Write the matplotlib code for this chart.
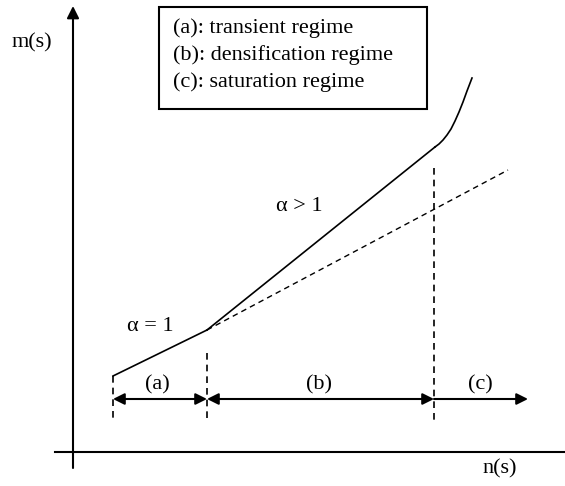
import matplotlib
matplotlib.use("Agg")
import matplotlib.pyplot as plt

# ---- data (in drawing units, y grows downward) ----
transient_x = [113, 207]
transient_y = [376, 330]
dens_x = [207, 435]
dens_y = [330, 147]
sat_x = [435, 439, 443, 447, 451, 455, 459, 463, 467, 472]
sat_y = [147, 144, 140, 135, 129, 121, 112, 102, 91, 78]
ext_x = [207, 508]
ext_y = [330, 170]
boundaries = [113, 207, 434]
boundary_top = [376, 353, 168]
boundary_bottom = [422, 418, 422]
regime_labels = ["(a)", "(b)", "(c)"]
regime_label_x = [157, 319, 480]
legend_lines = ["(a): transient regime", "(b): densification regime", "(c): saturation regime"]
alpha_labels = ["\u03b1 = 1", "\u03b1 > 1"]
alpha_pos = [(150, 326), (299, 206)]

FONT = "Liberation Serif"
FS = 16

fig = plt.figure(figsize=(5.65, 4.86), dpi=100)
ax = fig.add_axes([0, 0, 1, 1])
ax.set_xlim(0, 565)
ax.set_ylim(486, 0)
ax.axis("off")

# axes
ax.plot([55, 565], [452, 452], color="black", lw=1.5)
ax.annotate("", xy=(73, 6), xytext=(73, 468),
            arrowprops=dict(arrowstyle="-|>", color="black", lw=1.5,
                            mutation_scale=18, shrinkA=0, shrinkB=0))
ax.text(32, 43, "m(s)", family=FONT, fontsize=FS, ha="center", va="center")
ax.text(500, 469, "n(s)", family=FONT, fontsize=FS, ha="center", va="center")

# curve
ax.plot(transient_x, transient_y, color="black", lw=1.2)
ax.plot(dens_x, dens_y, color="black", lw=1.2)
ax.plot(sat_x, sat_y, color="black", lw=1.2, solid_joinstyle="round")
ax.plot(ext_x, ext_y, color="black", lw=1.0, ls=(0, (4, 3)))

# boundaries
for bx, bt, bb in zip(boundaries, boundary_top, boundary_bottom):
    ax.plot([bx, bx], [bt, bb], color="black", lw=1.2, ls=(0, (4, 3)))

# regime arrows
arrow_y = 399
ends = [(boundaries[0], boundaries[1], True), (boundaries[1], boundaries[2], True), (boundaries[2], 528, False)]
for x0, x1, both in ends:
    ax.annotate("", xy=(x1, arrow_y), xytext=(x0, arrow_y),
                arrowprops=dict(arrowstyle="<|-|>" if both else "-|>", color="black",
                                lw=1.5, mutation_scale=17, shrinkA=0, shrinkB=0))
for lab, lx in zip(regime_labels, regime_label_x):
    ax.text(lx, 385, lab, family=FONT, fontsize=FS, ha="center", va="center")

# alpha labels
for lab, (px, py) in zip(alpha_labels, alpha_pos):
    ax.text(px, py, lab, family=FONT, fontsize=FS, ha="center", va="center")

# legend box
ax.add_patch(plt.Rectangle((159, 7), 268, 102, fill=False, edgecolor="black", lw=1.5))
for i, line in enumerate(legend_lines):
    ax.text(173, 28 + 27 * i, line, family=FONT, fontsize=FS, ha="left", va="center")

fig.savefig("out.png", dpi=100)
